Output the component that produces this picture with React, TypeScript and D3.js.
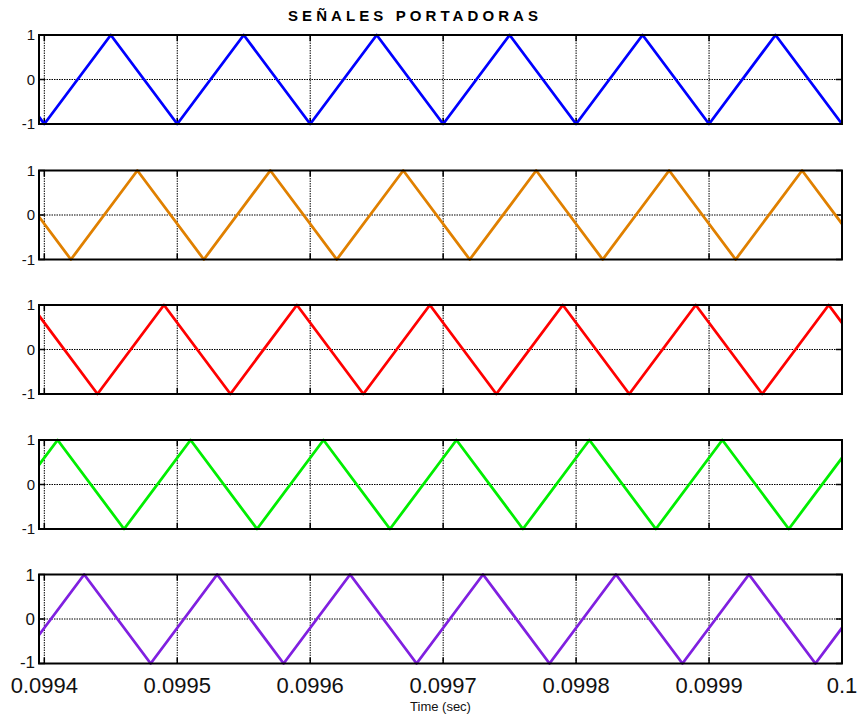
import React from "react";
import * as d3 from "d3";

const TITLE = "SEÑALES PORTADORAS";
const X_LABEL = "Time (sec)";
const X_DOMAIN = [0.099396, 0.1];
const X_TICKS = [0.0994, 0.0995, 0.0996, 0.0997, 0.0998, 0.0999, 0.1];
const X_TICK_LABELS = ["0.0994", "0.0995", "0.0996", "0.0997", "0.0998", "0.0999", "0.1"];
const Y_TICKS = [-1, 0, 1];
const Y_TICK_LABELS = ["-1", "0", "1"];

const blueT = [0.099396, 0.0994, 0.09945, 0.0995, 0.09955, 0.0996, 0.09965, 0.0997, 0.09975, 0.0998, 0.09985, 0.0999, 0.09995, 0.1];
const blueV = [-0.84, -1, 1, -1, 1, -1, 1, -1, 1, -1, 1, -1, 1, -1];
const orangeT = [0.099396, 0.09942, 0.09947, 0.09952, 0.09957, 0.09962, 0.09967, 0.09972, 0.09977, 0.09982, 0.09987, 0.09992, 0.09997, 0.1];
const orangeV = [-0.04, -1, 1, -1, 1, -1, 1, -1, 1, -1, 1, -1, 1, -0.2];
const redT = [0.099396, 0.09944, 0.09949, 0.09954, 0.09959, 0.09964, 0.09969, 0.09974, 0.09979, 0.09984, 0.09989, 0.09994, 0.09999, 0.1];
const redV = [0.76, -1, 1, -1, 1, -1, 1, -1, 1, -1, 1, -1, 1, 0.6];
const greenT = [0.099396, 0.09941, 0.09946, 0.09951, 0.09956, 0.09961, 0.09966, 0.09971, 0.09976, 0.09981, 0.09986, 0.09991, 0.09996, 0.1];
const greenV = [0.44, 1, -1, 1, -1, 1, -1, 1, -1, 1, -1, 1, -1, 0.6];
const purpleT = [0.099396, 0.09943, 0.09948, 0.09953, 0.09958, 0.09963, 0.09968, 0.09973, 0.09978, 0.09983, 0.09988, 0.09993, 0.09998, 0.1];
const purpleV = [-0.36, 1, -1, 1, -1, 1, -1, 1, -1, 1, -1, 1, -1, -0.2];

const SERIES = [
  { t: blueT, v: blueV, color: "#0000ff" },
  { t: orangeT, v: orangeV, color: "#e08000" },
  { t: redT, v: redV, color: "#ff0000" },
  { t: greenT, v: greenV, color: "#00ee00" },
  { t: purpleT, v: purpleV, color: "#8020e0" },
];

const W = 865;
const H = 717;
const LEFT = 39;
const RIGHT = 842;
const PANEL_TOPS = [35, 170.5, 305, 440, 574.5];
const PANEL_H = 89;
const FONT = "Liberation Sans, Arial, Helvetica, sans-serif";

export default function App() {
  const x = d3.scaleLinear().domain(X_DOMAIN).range([LEFT, RIGHT]);
  return (
    <svg width={W} height={H} style={{ position: "absolute", left: 0, top: 0, background: "#fff" }}>
      <defs>
        {PANEL_TOPS.map((top, i) => (
          <clipPath id={`clip${i}`} key={i}>
            <rect x={LEFT} y={top - 3} width={RIGHT - LEFT} height={PANEL_H + 6} />
          </clipPath>
        ))}
      </defs>
      <text x={288} y={21} fontFamily={FONT} fontWeight="bold" fontSize={15} textLength={250} lengthAdjust="spacing">
        {TITLE}
      </text>
      {SERIES.map((s, i) => {
        const top = PANEL_TOPS[i];
        const y = d3.scaleLinear().domain([-1, 1]).range([top + PANEL_H, top]);
        const pts = s.t.map((t, k) => [t, s.v[k]] as [number, number]);
        const line = d3.line<[number, number]>().x((d) => x(d[0])).y((d) => y(d[1]));
        const last = i === SERIES.length - 1;
        return (
          <g key={i}>
            {X_TICKS.map((t, k) => (
              <line key={"gx" + k} x1={x(t)} x2={x(t)} y1={top} y2={top + PANEL_H} stroke="#000" strokeWidth={1} strokeDasharray="1.5,1" />
            ))}
            {Y_TICKS.map((v, k) => (
              <line key={"gy" + k} x1={LEFT} x2={RIGHT} y1={y(v)} y2={y(v)} stroke="#000" strokeWidth={1} strokeDasharray="1.5,1" />
            ))}
            {X_TICKS.map((t, k) => (
              <g key={"tx" + k}>
                <line x1={x(t)} x2={x(t)} y1={top} y2={top + 6} stroke="#000" strokeWidth={1.5} />
                <line x1={x(t)} x2={x(t)} y1={top + PANEL_H} y2={top + PANEL_H - 6} stroke="#000" strokeWidth={1.5} />
              </g>
            ))}
            {Y_TICKS.map((v, k) => (
              <g key={"ty" + k}>
                <line x1={LEFT} x2={LEFT + 6} y1={y(v)} y2={y(v)} stroke="#000" strokeWidth={1.5} />
                <line x1={RIGHT} x2={RIGHT - 6} y1={y(v)} y2={y(v)} stroke="#000" strokeWidth={1.5} />
              </g>
            ))}
            <path d={line(pts) || ""} fill="none" stroke={s.color} strokeWidth={2.8} strokeLinejoin="round" clipPath={`url(#clip${i})`} />
            <rect x={LEFT} y={top} width={RIGHT - LEFT} height={PANEL_H} fill="none" stroke="#000" strokeWidth={2} />
            {Y_TICKS.map((v, k) => (
              <text key={"ly" + k} x={35} y={y(v)} dy={last && v === -1 ? "0.25em" : "0.36em"} textAnchor="end" fontFamily={FONT} fontSize={last ? 17 : 15} fill="#111">
                {Y_TICK_LABELS[k]}
              </text>
            ))}
            {last &&
              X_TICKS.map((t, k) => (
                <text key={"lx" + k} x={x(t)} y={693} textAnchor="middle" fontFamily={FONT} fontSize={22} fill="#111">
                  {X_TICK_LABELS[k]}
                </text>
              ))}
          </g>
        );
      })}
      <text x={(LEFT + RIGHT) / 2} y={711} textAnchor="middle" fontFamily={FONT} fontSize={13} fill="#111">
        {X_LABEL}
      </text>
    </svg>
  );
}
